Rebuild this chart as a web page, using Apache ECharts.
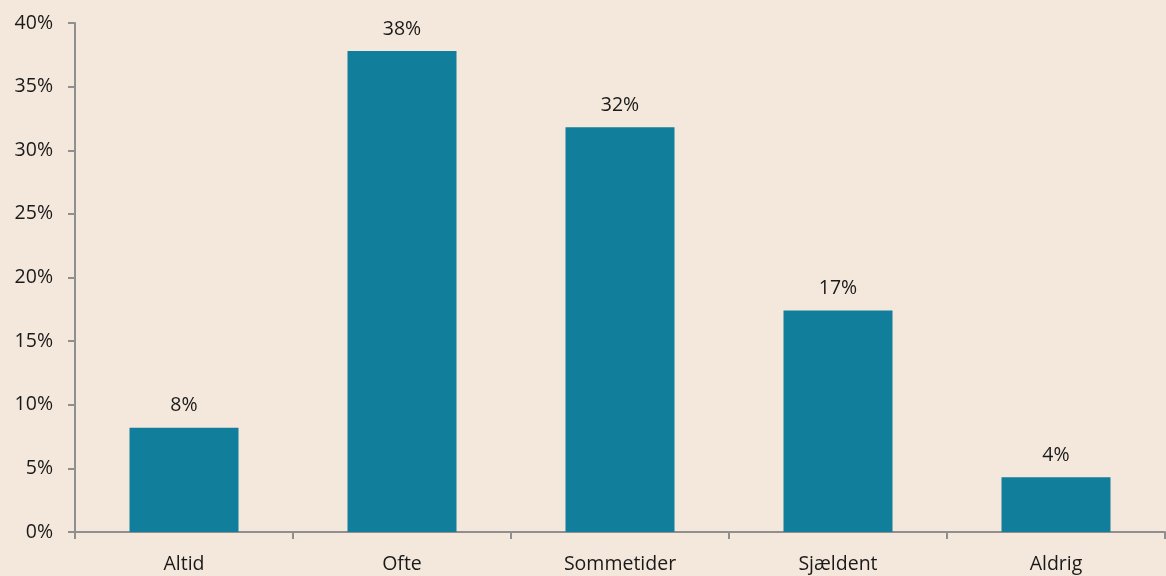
<!DOCTYPE html>
<html>
<head>
  <meta charset="utf-8">
  <title>Bar chart</title>
  <script src="https://cdn.jsdelivr.net/npm/echarts@6/dist/echarts.min.js"></script>
  <style>
    html, body { margin: 0; padding: 0; background: #f4e8dc; }
    #chart { width: 1166px; height: 576px; }
  </style>
</head>
<body>
<div id="chart"></div>
<script>
  const categories = ['Altid', 'Ofte', 'Sommetider', 'Sjældent', 'Aldrig'];
  const shares = [8.2, 37.8, 31.8, 17.4, 4.3];
  const yTicks = [0, 5, 10, 15, 20, 25, 30, 35, 40];

  const font = '"Open Sans", "Noto Sans", sans-serif';
  const axisGrey = '#8f8f8f';

  let chart = echarts.init(document.getElementById('chart'));

  chart.setOption({
    backgroundColor: '#f4e8dc',
    animation: false,
    grid: { left: 75, right: 1, top: 23, bottom: 44 },
    xAxis: {
      type: 'category',
      data: categories,
      axisLine: { lineStyle: { color: axisGrey, width: 2 } },
      axisTick: { show: true, length: 7, lineStyle: { color: axisGrey, width: 2 } },
      axisLabel: { color: '#1a1a1a', fontSize: 19.5, fontFamily: font, margin: 22 }
    },
    yAxis: {
      type: 'value',
      min: yTicks[0],
      max: yTicks[yTicks.length - 1],
      interval: 5,
      splitLine: { show: false },
      axisLine: { show: true, lineStyle: { color: axisGrey, width: 2 } },
      axisTick: { show: true, length: 7, lineStyle: { color: axisGrey, width: 2 } },
      axisLabel: {
        color: '#1a1a1a', fontSize: 19.5, fontFamily: font, margin: 22,
        formatter: v => v + '%'
      }
    },
    series: [{
      type: 'bar',
      data: shares,
      barWidth: '50%',
      itemStyle: { color: '#117f9b' },
      label: {
        show: true,
        position: 'top',
        distance: 12,
        color: '#1a1a1a',
        fontSize: 19.5,
        fontFamily: font,
        formatter: p => Math.round(p.value) + '%'
      }
    }]
  });
</script>
</body>
</html>
